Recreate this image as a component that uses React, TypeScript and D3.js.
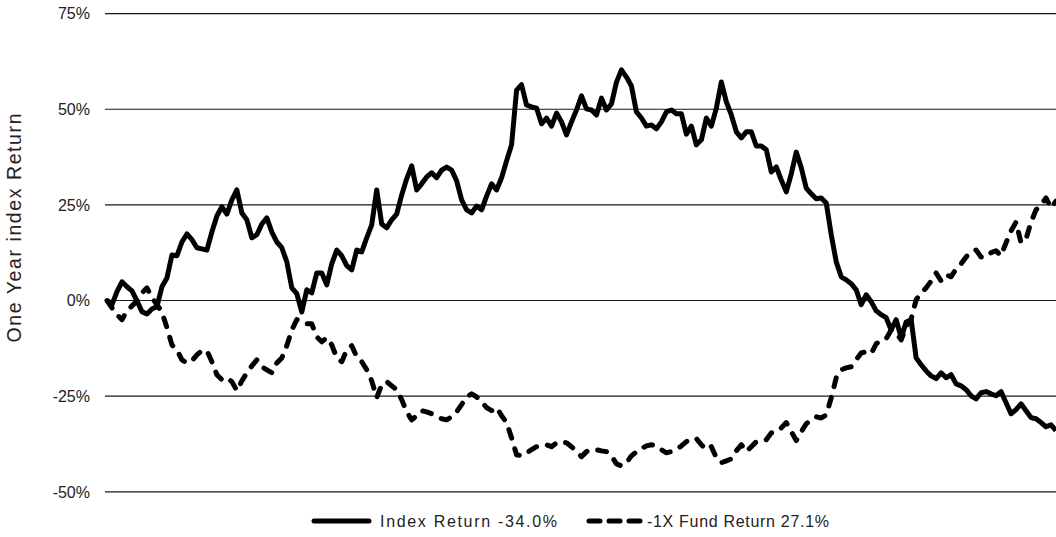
import * as d3 from 'd3';

// Y axis ticks (percent)
const yTicks = [75, 50, 25, 0, -25, -50];

// Daily cumulative returns (%), one per sample
const indexReturn = [
  0, -1.1, 2.3, 4.9, 3.6, 2.5, -0.1, -2.9, -3.5, -2.2,
  -1.6, 3.6, 5.9, 11.9, 11.7, 15.3, 17.4, 15.9, 13.8, 13.5,
  13.2, 17.9, 22.1, 24.5, 22.6, 26.3, 28.9, 22.9, 21.1, 16.4,
  17.2, 20.0, 21.6, 17.9, 15.3, 13.8, 10.1, 3.3, 1.8, -3.0,
  2.8, 2.0, 7.2, 7.2, 4.1, 9.6, 13.2, 11.7, 9.1, 8.0,
  13.2, 12.7, 16.4, 19.8, 28.9, 20.0, 19.0, 21.1, 22.6, 27.6,
  31.8, 35.2, 28.9, 30.5, 32.3, 33.4, 32.1, 34.1, 34.9, 34.1,
  31.3, 26.3, 23.7, 22.9, 24.7, 23.7, 27.3, 30.5, 28.9, 32.1,
  36.5, 40.7, 55.0, 56.4, 51.1, 50.6, 50.3, 46.2, 47.7, 45.6,
  49.0, 46.7, 43.3, 46.7, 49.8, 53.5, 50.1, 49.8, 48.5, 52.9,
  49.8, 51.4, 57.1, 60.3, 58.4, 56.1, 49.3, 47.7, 45.6, 45.9,
  44.9, 46.7, 49.3, 49.8, 48.8, 48.8, 43.5, 45.6, 40.7, 42.0,
  47.7, 45.6, 50.3, 57.1, 51.9, 48.5, 44.1, 42.5, 44.1, 44.1,
  40.4, 40.4, 39.4, 33.6, 34.9, 31.5, 28.4, 33.1, 38.8, 34.7,
  29.4, 27.9, 26.6, 26.8, 25.5, 17.2, 10.1, 6.2, 5.4, 4.4,
  2.8, -1.1, 1.5, -0.3, -2.7, -3.7, -4.5, -7.7, -5.0, -9.7,
  -5.6, -5.0, -15.0, -16.8, -18.4, -19.7, -20.4, -18.9, -20.2, -19.4,
  -21.8, -22.3, -23.3, -24.9, -25.7, -24.1, -23.8, -24.4, -24.9, -23.8,
  -26.7, -29.6, -28.5, -27.0, -28.8, -30.6, -30.9, -31.9, -33.0, -32.5,
  -34.0,
];

const fundReturn = [
  0, -1.9, -3.7, -5.0, -2.7, -1.4, -0.1, 2.0, 3.3, 0.7,
  -1.1, -3.0, -7.1, -11.6, -12.9, -15.5, -16.3, -15.8, -14.2, -13.1,
  -13.1, -16.0, -19.4, -20.7, -20.2, -21.2, -23.6, -21.0, -18.9, -17.1,
  -15.5, -17.3, -18.1, -18.9, -16.3, -15.0, -11.8, -7.7, -5.0, -5.3,
  -6.1, -6.1, -9.5, -10.8, -9.7, -11.6, -15.0, -16.0, -12.9, -11.8,
  -14.7, -16.0, -18.1, -21.0, -25.4, -22.0, -21.2, -22.3, -23.3, -25.9,
  -29.1, -31.2, -30.1, -28.8, -29.1, -29.6, -30.4, -30.9, -31.2, -30.4,
  -29.1, -27.2, -25.2, -24.4, -25.2, -26.5, -28.0, -28.8, -28.0, -30.1,
  -31.9, -35.9, -40.3, -40.6, -39.8, -39.0, -38.2, -38.0, -37.7, -38.2,
  -37.2, -36.9, -37.2, -38.2, -39.5, -40.8, -39.5, -39.0, -39.0, -39.3,
  -39.5, -40.6, -42.7, -43.2, -42.4, -40.6, -39.5, -38.7, -38.0, -37.7,
  -38.0, -39.0, -39.8, -39.5, -39.0, -38.0, -36.9, -36.1, -36.1, -37.7,
  -39.0, -38.2, -41.1, -42.4, -41.9, -41.4, -39.3, -37.7, -39.5, -38.2,
  -36.9, -36.6, -36.4, -34.6, -34.3, -33.3, -31.9, -34.3, -36.6, -34.3,
  -32.2, -31.2, -30.4, -30.7, -29.9, -25.4, -20.2, -18.1, -17.6, -17.3,
  -15.5, -13.7, -13.4, -13.9, -11.3, -10.5, -10.0, -7.7, -8.4, -10.3,
  -6.9, -4.8, 0.2, 2.0, 3.3, 5.1, 7.2, 5.1, 6.7, 6.2,
  8.3, 9.6, 11.4, 12.7, 13.2, 11.4, 11.4, 12.5, 13.0, 11.7,
  15.1, 18.2, 20.5, 15.1, 16.1, 20.5, 23.7, 25.0, 26.8, 24.2,
  26.0,
];

const seriesNames = ['Index Return -34.0%', '-1X Fund Return 27.1%'];
const yTitle = 'One Year index Return';

const W = 1056;
const H = 537;
const FONT = '"Liberation Sans", Arial, Helvetica, sans-serif';

export default function App() {
  const x = d3.scaleLinear().domain([0, indexReturn.length - 1]).range([107, 1056]);
  const y = d3.scaleLinear().domain([-50, 75]).range([491.8, 13.6]);

  const line = d3
    .line<number>()
    .x((_, i) => x(i))
    .y((d) => y(d));

  return (
    <svg
      width={W}
      height={H}
      style={{ position: 'absolute', left: 0, top: 0, background: '#fff' }}
    >
      {/* gridlines + tick labels */}
      {yTicks.map((t) => (
        <g key={t}>
          <line x1={105} x2={W} y1={y(t)} y2={y(t)} stroke="#1a1a1a" strokeWidth={1.2} />
          <text
            x={90}
            y={y(t)}
            dy="0.36em"
            textAnchor="end"
            fontSize={16}
            fontFamily={FONT}
            fill="#222"
          >
            {t}%
          </text>
        </g>
      ))}

      <text
        transform={`translate(21, 228) rotate(-90)`}
        textAnchor="middle"
        fontSize={19.5}
        fontFamily={FONT}
        fill="#222"
        textLength={229}
        lengthAdjust="spacing"
      >
        {yTitle}
      </text>

      {/* series */}
      <path
        d={line(fundReturn) ?? ''}
        fill="none"
        stroke="#000"
        strokeWidth={5}
        strokeDasharray="9,11"
        strokeLinecap="round"
        strokeLinejoin="round"
      />
      <path
        d={line(indexReturn) ?? ''}
        fill="none"
        stroke="#000"
        strokeWidth={5}
        strokeLinejoin="round"
      />

      {/* legend */}
      <g fontFamily={FONT} fontSize={16} fill="#222">
        <line x1={314} x2={369} y1={521} y2={521} stroke="#000" strokeWidth={5} strokeLinecap="round" />
        <text x={380} y={521} dy="0.36em" textLength={177} lengthAdjust="spacing">
          {seriesNames[0]}
        </text>
        <line
          x1={589}
          x2={640}
          y1={521}
          y2={521}
          stroke="#000"
          strokeWidth={5}
          strokeDasharray="11,9"
          strokeLinecap="round"
        />
        <text x={647} y={521} dy="0.36em" textLength={182} lengthAdjust="spacing">
          {seriesNames[1]}
        </text>
      </g>
    </svg>
  );
}
